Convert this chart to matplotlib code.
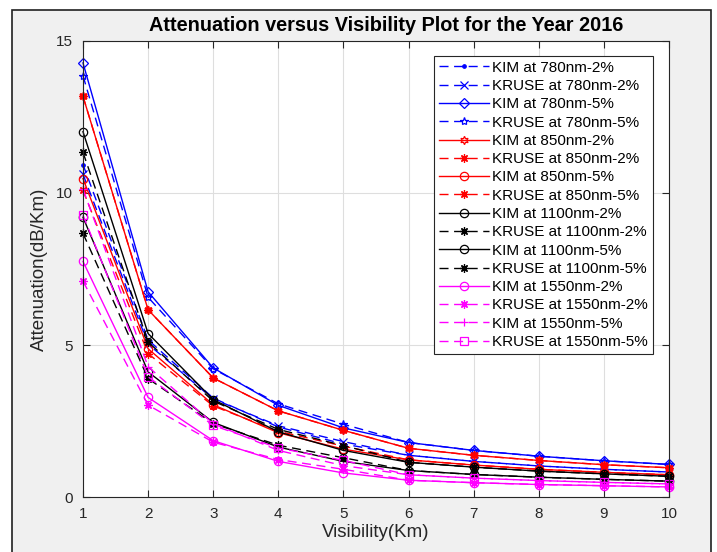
import numpy as np
import matplotlib
matplotlib.use('Agg')
import matplotlib.pyplot as plt
from matplotlib.patches import Rectangle

plt.rcParams['font.family'] = ['Liberation Sans', 'DejaVu Sans']
plt.rcParams['lines.scale_dashes'] = False

# visibility (Km)
vis = [1, 2, 3, 4, 5, 6, 7, 8, 9, 10]

# attenuation (dB/Km)
kim780_2 = [10.93, 5.17, 3.26, 2.31, 1.75, 1.38, 1.18, 1.03, 0.92, 0.83]
kruse780_2 = [10.61, 5.03, 3.23, 2.35, 1.83, 1.38, 1.18, 1.03, 0.92, 0.83]
kim780_5 = [14.27, 6.75, 4.25, 3.02, 2.28, 1.80, 1.54, 1.35, 1.20, 1.08]
kruse780_5 = [13.85, 6.57, 4.22, 3.07, 2.40, 1.80, 1.54, 1.35, 1.20, 1.08]

kim850_2 = [13.17, 6.16, 3.92, 2.84, 2.20, 1.61, 1.38, 1.21, 1.07, 0.97]
kruse850_2 = [10.08, 4.72, 3.00, 2.17, 1.68, 1.23, 1.06, 0.92, 0.82, 0.74]
kim850_5 = [10.47, 4.88, 3.04, 2.12, 1.58, 1.23, 1.06, 0.92, 0.82, 0.74]
kruse850_5 = [13.17, 6.16, 3.92, 2.84, 2.20, 1.61, 1.38, 1.21, 1.07, 0.97]

kim1100_2 = [9.20, 4.12, 2.46, 1.65, 1.18, 0.88, 0.75, 0.66, 0.59, 0.53]
kruse1100_2 = [8.67, 3.90, 2.42, 1.71, 1.30, 0.88, 0.75, 0.66, 0.59, 0.53]
kim1100_5 = [12.01, 5.38, 3.21, 2.15, 1.54, 1.15, 0.99, 0.86, 0.77, 0.69]
kruse1100_5 = [11.33, 5.10, 3.16, 2.23, 1.70, 1.15, 0.99, 0.86, 0.77, 0.69]

kim1550_2 = [7.75, 3.28, 1.86, 1.18, 0.80, 0.56, 0.48, 0.42, 0.38, 0.34]
kruse1550_2 = [7.10, 3.03, 1.81, 1.24, 0.92, 0.56, 0.48, 0.42, 0.38, 0.34]
kim1550_5 = [10.12, 4.29, 2.42, 1.54, 1.04, 0.74, 0.63, 0.55, 0.49, 0.44]
kruse1550_5 = [9.27, 3.96, 2.36, 1.62, 1.21, 0.74, 0.63, 0.55, 0.49, 0.44]

dash = (0, (6.5, 4))
ast = (8, 2, 0)
mag = '#ff00ff'
series = [
    (kim780_2, 'KIM at 780nm-2%', 'b', dash, '.'),
    (kruse780_2, 'KRUSE at 780nm-2%', 'b', dash, 'x'),
    (kim780_5, 'KIM at 780nm-5%', 'b', '-', 'D'),
    (kruse780_5, 'KRUSE at 780nm-5%', 'b', dash, '*'),
    (kim850_2, 'KIM at 850nm-2%', 'r', '-', (6, 1, 0)),
    (kruse850_2, 'KRUSE at 850nm-2%', 'r', dash, ast),
    (kim850_5, 'KIM at 850nm-5%', 'r', '-', 'o'),
    (kruse850_5, 'KRUSE at 850nm-5%', 'r', dash, ast),
    (kim1100_2, 'KIM at 1100nm-2%', 'k', '-', 'o'),
    (kruse1100_2, 'KRUSE at 1100nm-2%', 'k', dash, ast),
    (kim1100_5, 'KIM at 1100nm-5%', 'k', '-', 'o'),
    (kruse1100_5, 'KRUSE at 1100nm-5%', 'k', dash, ast),
    (kim1550_2, 'KIM at 1550nm-2%', mag, '-', 'o'),
    (kruse1550_2, 'KRUSE at 1550nm-2%', mag, dash, ast),
    (kim1550_5, 'KIM at 1550nm-5%', mag, dash, '+'),
    (kruse1550_5, 'KRUSE at 1550nm-5%', mag, dash, 's'),
]

fig = plt.figure(figsize=(7.17, 5.52), dpi=100, facecolor='white')
# gray window with dark frame
fig.patches.append(Rectangle((12 / 717, -0.01), 699 / 717, 1.01 - 10 / 552,
                             transform=fig.transFigure, facecolor='#f0f0f0',
                             edgecolor='#202020', lw=1.2, zorder=-10))

ax = fig.add_axes([83 / 717, 1 - 497.3 / 552, 586 / 717, 456.6 / 552])

for y, lab, c, ls, mk in series:
    ms = 6
    if mk == '.':
        ms = 5
    elif mk == 'D':
        ms = 5.5
    ax.plot(vis, y, color=c, linestyle=ls, marker=mk, markersize=ms,
            markerfacecolor='none' if mk != '.' else c, markeredgewidth=0.9,
            linewidth=1.0, label=lab, clip_on=False)

ax.set_xlim(1, 10)
ax.set_ylim(0, 15)
ax.set_xticks(vis)
ax.set_yticks([0, 5, 10, 15])
ax.grid(True, color='#dedede', linewidth=0.8)
ax.set_axisbelow(True)
ax.tick_params(direction='in', top=True, right=True, length=5, width=0.8,
               colors='#262626', labelsize=11, pad=7)
for sp in ax.spines.values():
    sp.set_color('#262626')
    sp.set_linewidth(0.8)

ax.set_title('Attenuation versus Visibility Plot for the Year 2016',
             fontsize=14.3, fontweight='bold', x=0.517, pad=7)
ax.set_xlabel('Visibility(Km)', fontsize=13.5, color='#262626', labelpad=2)
ax.set_ylabel('Attenuation(dB/Km)', fontsize=13.5, color='#262626', labelpad=6)

leg = ax.legend(loc='upper right', bbox_to_anchor=(0.9727, 0.967),
                borderaxespad=0, fontsize=11, fancybox=False, framealpha=1,
                edgecolor='#262626', handlelength=3.3, handletextpad=0.2,
                labelspacing=0.28, borderpad=0.33, numpoints=1)
leg.get_frame().set_linewidth(0.8)

fig.savefig('out.png', dpi=100, facecolor=fig.get_facecolor())
